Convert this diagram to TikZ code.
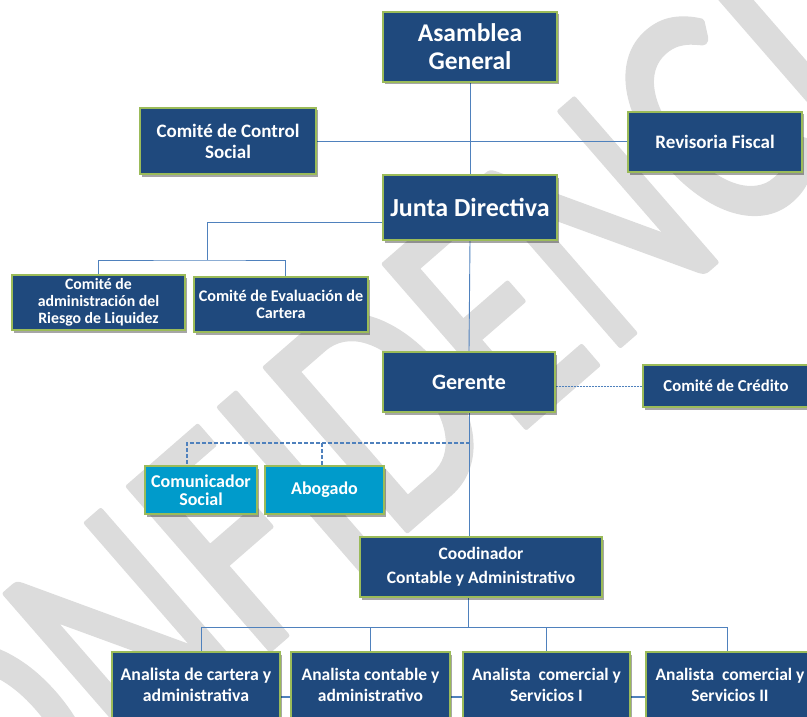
\documentclass[tikz,border=0pt]{standalone}
\usepackage{fontspec}
\setmainfont{Carlito}
\newfontfamily\wmfont{Carlito}
\usetikzlibrary{shadows,calc}
\definecolor{boxblue}{HTML}{1F497D}
\definecolor{boxgreen}{HTML}{9BBB59}
\definecolor{cyanbox}{HTML}{009BCB}
\definecolor{lineblue}{HTML}{4F81BD}
\definecolor{wmgray}{HTML}{DCDCDC}
\newcommand{\fs}[2]{\fontsize{#1}{#2}\selectfont}
\pgfdeclarelayer{wmlayer}
\pgfdeclarelayer{linelayer}
\pgfsetlayers{wmlayer,linelayer,main}
\tikzset{
  box/.style={draw=boxgreen, line width=1.2pt, fill=boxblue, text=white,
    align=center, inner sep=0pt, font=\bfseries,
    drop shadow={shadow xshift=1.5pt, shadow yshift=-2.5pt, fill=black, opacity=.35}},
  cbox/.style={box, fill=cyanbox},
  conn/.style={draw=lineblue, line width=0.9pt},
  conntwo/.style={draw=lineblue, line width=2pt},
  dashconn/.style={draw=lineblue, line width=1.8pt, dash pattern=on 4pt off 2pt},
  dotconn/.style={draw=lineblue, line width=1pt, dash pattern=on 2pt off 1pt},
}
\begin{document}
\begin{tikzpicture}[x=1pt,y=-1pt]
\useasboundingbox (0,0) rectangle (807,717);
\clip (0,0) rectangle (807,717);
\begin{pgfonlayer}{wmlayer}
\node[rotate=41, text=wmgray, font=\wmfont\fs{255}{255}, inner sep=0pt] (wm) at (418,378) {\scalebox{1}[1.32]{\special{pdf:literal direct 2 Tr 1 j 1 J 4 w}CONFIDENCIAL\special{pdf:literal direct 0 Tr}}};
\end{pgfonlayer}

% boxes
\node[box, minimum width=174pt, minimum height=70pt, font=\bfseries\fs{25.5}{28}] (AG) at (470,47) {Asamblea\\General};
\node[box, minimum width=176pt, minimum height=66pt, font=\bfseries\fs{19}{21}] (CCS) at (228,141) {Comité de Control\\Social};
\node[box, minimum width=174pt, minimum height=60pt, font=\bfseries\fs{19}{21}] (RF) at (715,142) {Revisoria Fiscal};
\node[box, minimum width=174pt, minimum height=65pt, font=\bfseries\fs{26}{28}] (JD) at (470,207.5) {Junta Directiva};
\node[box, minimum width=173pt, minimum height=55pt, font=\bfseries\fs{15.8}{17}] (CAR) at (98.5,302.5) {Comité de\\administración del\\Riesgo de Liquidez};
\node[box, minimum width=174pt, minimum height=55pt, font=\bfseries\fs{16.2}{17.5}] (CEC) at (281,304.5) {Comité de Evaluación de\\Cartera};
\node[box, minimum width=172pt, minimum height=60pt, font=\bfseries\fs{22}{24}] (GER) at (469,382) {Gerente};
\node[box, minimum width=166pt, minimum height=42pt, font=\bfseries\fs{16.7}{18}] (CCR) at (726,386) {Comité de Crédito};
\node[cbox, minimum width=112pt, minimum height=48pt, font=\bfseries\fs{18}{18.5}] (COM) at (201,490) {Comunicador\\Social};
\node[cbox, minimum width=119pt, minimum height=48pt, font=\bfseries\fs{18}{19}] (ABO) at (324.5,490) {Abogado};
\node[box, minimum width=242pt, minimum height=60pt, font=\bfseries\fs{17.5}{24}] (COO) at (481,567) {Coodinador\\Contable y Administrativo};
\node[box, minimum width=168pt, minimum height=66pt, font=\bfseries\fs{17.8}{21}] (A1) at (196,685) {Analista de cartera y\\administrativa};
\node[box, minimum width=159pt, minimum height=66pt, font=\bfseries\fs{17.5}{21}] (A2) at (370.5,685) {Analista contable y\\administrativo};
\node[box, minimum width=167pt, minimum height=66pt, font=\bfseries\fs{17.5}{21}] (A3) at (546.5,685) {Analista\ \ comercial y\\Servicios I};
\node[box, minimum width=168pt, minimum height=66pt, font=\bfseries\fs{17.5}{21}] (A4) at (730,685) {Analista\ \ comercial y\\Servicios II};

% junction coordinates
\coordinate (j1) at (207,222);
\coordinate (j2) at (207,260);
\coordinate (g1) at (470,443);
\coordinate (d1) at (187,443);
\coordinate (d2) at (322,443);
\coordinate (c1) at (468,627);
\coordinate (b1) at (201,627);
\coordinate (b2) at (370,627);
\coordinate (b3) at (546,627);
\coordinate (b4) at (727,627);
\coordinate (h) at (0,697);

% connectors
\begin{pgfonlayer}{linelayer}
\draw[conn] (AG.south) -- (JD.north);
\draw[conn] (CCS.east) -- (CCS.east -| RF.west);
\draw[conn] (JD.west |- j1) -- (j1) -- (j2);
\draw[conn] (CAR.north) |- (j2) -| ([xshift=4pt]CEC.north);
\draw[conn] (JD.south) -- (GER.north);
\draw[dotconn] (CCR.west -| GER.east) -- (CCR.west);
\draw[conn] (GER.south) -- (GER.south |- COO.north);
\draw[dashconn] (g1) -- (d1) -- (d1 |- COM.north);
\draw[dashconn] (d2) -- (d2 |- ABO.north);
\draw[conn] (c1 |- COO.south) -- (c1);
\draw[conn] (b1) -- (b4);
\draw[conn] (b1) -- (b1 |- A1.north);
\draw[conn] (b2) -- (b2 |- A2.north);
\draw[conn] (b3) -- (b3 |- A3.north);
\draw[conn] (b4) -- (b4 |- A4.north);
\draw[conntwo] (A1.east |- h) -- (A2.west |- h);
\draw[conntwo] (A2.east |- h) -- (A3.west |- h);
\draw[conntwo] (A3.east |- h) -- (A4.west |- h);
\end{pgfonlayer}
\end{tikzpicture}
\end{document}
